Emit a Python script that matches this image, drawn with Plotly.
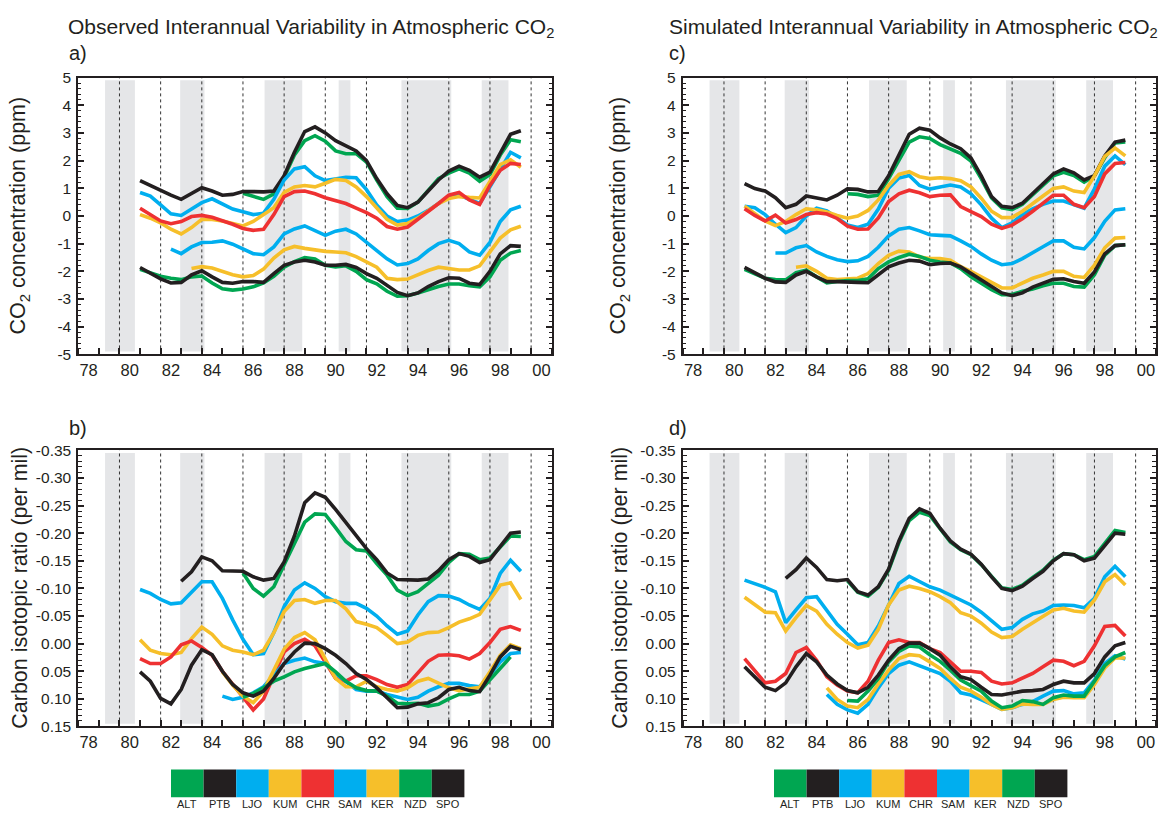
import plotly.graph_objects as go

# ---------------- data ----------------
YEARS = [1981.0, 1981.5, 1982.0, 1982.5, 1983.0, 1983.5, 1984.0, 1984.5, 1985.0, 1985.5,
         1986.0, 1986.5, 1987.0, 1987.5, 1988.0, 1988.5, 1989.0, 1989.5, 1990.0, 1990.5,
         1991.0, 1991.5, 1992.0, 1992.5, 1993.0, 1993.5, 1994.0, 1994.5, 1995.0, 1995.5,
         1996.0, 1996.5, 1997.0, 1997.5, 1998.0, 1998.5, 1999.0, 1999.5]

STATIONS = ["ALT", "PTB", "LJO", "KUM", "CHR", "SAM", "KER", "NZD", "SPO"]
COLORS = ["#00A651", "#231F20", "#00AEEF", "#F6BF2A", "#EE3132",
          "#00AEEF", "#F6BF2A", "#00A651", "#231F20"]

# El Nino shaded periods
ENSO_START = [1979.3, 1982.95, 1987.05, 1990.65, 1993.7, 1997.6]
ENSO_END = [1980.75, 1984.13, 1988.88, 1991.22, 1996.12, 1998.9]
DASH_YEARS = [1980, 1982, 1984, 1986, 1988, 1990, 1992, 1994, 1996, 1998, 2000]

X_LABEL_POS = [1978.5, 1980.5, 1982.5, 1984.5, 1986.5, 1988.5, 1990.5, 1992.5, 1994.5,
               1996.5, 1998.5, 2000.5]
X_LABELS = ["78", "80", "82", "84", "86", "88", "90", "92", "94", "96", "98", "00"]
CO2_TICKS = [-5, -4, -3, -2, -1, 0, 1, 2, 3, 4, 5]
ISO_TICKS = [-0.35, -0.30, -0.25, -0.20, -0.15, -0.10, -0.05, 0.00, 0.05, 0.10, 0.15]
ISO_LABELS = ["-0.35", "-0.30", "-0.25", "-0.20", "-0.15", "-0.10", "-0.05", "0.00",
              "0.05", "0.10", "0.15"]

# start year of each station record, per panel
START_A = [1986.0, 1981.0, 1981.0, 1981.0, 1981.0, 1982.5, 1983.5, 1981.0, 1981.0]
START_B = [1986.0, 1983.0, 1981.0, 1981.0, 1981.0, 1985.0, 1985.0, 1986.0, 1981.0]
START_C = [1986.0, 1981.0, 1981.0, 1981.0, 1981.0, 1982.5, 1983.5, 1981.0, 1981.0]
START_D = [1986.0, 1983.0, 1981.0, 1981.0, 1981.0, 1985.0, 1985.0, 1986.0, 1981.0]

# ---- panel a: observed CO2 (ppm) ----
A_ALT = [0.82, 0.72, 0.6, 0.8, 1.4, 2.2, 2.72, 2.9, 2.7, 2.35, 2.25, 2.25, 1.95, 1.3, 0.7,
         0.28, 0.27, 0.5, 0.95, 1.35, 1.55, 1.7, 1.55, 1.25, 1.5, 2.2, 2.75, 2.68]
A_PTB = [1.28, 1.1, 0.95, 0.75, 0.6, 0.8, 1.02, 0.9, 0.75, 0.78, 0.88, 0.88, 0.87, 0.9, 1.45,
         2.3, 3.05, 3.22, 3.0, 2.72, 2.55, 2.35, 2.0, 1.35, 0.8, 0.38, 0.3, 0.5, 0.9, 1.3,
         1.62, 1.8, 1.65, 1.4, 1.58, 2.3, 2.95, 3.08]
A_LJO = [0.85, 0.72, 0.4, 0.08, 0.02, 0.25, 0.48, 0.62, 0.45, 0.25, 0.15, 0.05, 0.1, 0.6,
         1.3, 1.7, 1.78, 1.45, 1.28, 1.35, 1.4, 1.38, 0.95, 0.4, 0.0, -0.2, -0.15, 0.0, 0.2,
         0.45, 0.68, 0.75, 0.6, 0.45, 1.05, 1.65, 2.3, 2.1]
A_KUM = [0.05, -0.08, -0.25, -0.48, -0.65, -0.42, -0.12, -0.13, -0.18, -0.28, -0.36, -0.2,
         0.05, 0.3, 0.85, 1.05, 1.1, 1.05, 1.18, 1.32, 1.28, 1.05, 0.7, 0.28, -0.12, -0.33,
         -0.27, -0.08, 0.18, 0.45, 0.63, 0.7, 0.67, 0.65, 1.25, 1.85, 2.03, 1.76]
A_CHR = [0.28, 0.05, -0.18, -0.28, -0.2, -0.02, 0.02, -0.05, -0.17, -0.3, -0.45, -0.52,
         -0.48, 0.05, 0.7, 0.88, 0.9, 0.8, 0.66, 0.55, 0.45, 0.28, 0.12, -0.08, -0.38, -0.48,
         -0.4, -0.12, 0.15, 0.45, 0.75, 0.85, 0.58, 0.42, 1.1, 1.65, 1.9, 1.86]
A_SAM = [-1.2, -1.36, -1.12, -0.96, -0.95, -0.9, -1.02, -1.2, -1.36, -1.4, -1.12, -0.65,
         -0.47, -0.36, -0.54, -0.7, -0.55, -0.48, -0.65, -0.95, -1.25, -1.55, -1.77, -1.72,
         -1.55, -1.25, -1.0, -0.88, -1.0, -1.3, -1.42, -0.95, -0.2, 0.22, 0.35]
A_KER = [-1.9, -1.83, -1.88, -2.0, -2.12, -2.2, -2.15, -1.92, -1.52, -1.22, -1.1, -1.17,
         -1.23, -1.28, -1.3, -1.33, -1.47, -1.65, -1.85, -2.25, -2.3, -2.28, -2.12, -1.97,
         -1.85, -1.9, -1.95, -1.95, -1.8, -1.3, -0.8, -0.5, -0.37]
A_NZD = [-1.93, -2.07, -2.18, -2.25, -2.3, -2.2, -2.17, -2.42, -2.63, -2.68, -2.64, -2.56,
         -2.42, -2.18, -1.85, -1.65, -1.5, -1.55, -1.78, -1.84, -1.8, -2.0, -2.3, -2.45,
         -2.72, -2.9, -2.88, -2.78, -2.65, -2.55, -2.46, -2.46, -2.52, -2.56, -2.2, -1.6,
         -1.34, -1.25]
A_SPO = [-1.86, -2.08, -2.27, -2.42, -2.4, -2.13, -1.98, -2.2, -2.4, -2.43, -2.37, -2.37,
         -2.4, -2.08, -1.78, -1.66, -1.6, -1.66, -1.78, -1.78, -1.75, -1.86, -2.08, -2.25,
         -2.52, -2.76, -2.88, -2.78, -2.55, -2.37, -2.23, -2.25, -2.43, -2.48, -2.0, -1.37,
         -1.07, -1.1]

# ---- panel b: observed carbon isotopic ratio (per mil) ----
B_ALT = [-0.128, -0.1, -0.086, -0.103, -0.143, -0.18, -0.22, -0.235, -0.234, -0.21, -0.185,
         -0.17, -0.168, -0.145, -0.124, -0.097, -0.087, -0.094, -0.108, -0.124, -0.147,
         -0.163, -0.162, -0.152, -0.155, -0.175, -0.195, -0.194]
B_PTB = [-0.113, -0.13, -0.157, -0.15, -0.132, -0.132, -0.131, -0.121, -0.115, -0.118,
         -0.148, -0.195, -0.255, -0.273, -0.265, -0.243, -0.22, -0.197, -0.172, -0.152,
         -0.128, -0.116, -0.116, -0.115, -0.117, -0.132, -0.152, -0.163, -0.158, -0.147,
         -0.152, -0.175, -0.2, -0.202]
B_LJO = [-0.098, -0.091, -0.08, -0.072, -0.074, -0.094, -0.112, -0.112, -0.082, -0.043,
         -0.008, 0.02, 0.018, -0.02, -0.067, -0.097, -0.11, -0.1, -0.085, -0.076, -0.073,
         -0.073, -0.064, -0.05, -0.032, -0.017, -0.023, -0.052, -0.076, -0.087, -0.086,
         -0.08, -0.07, -0.062, -0.082, -0.127, -0.151, -0.131]
B_KUM = [-0.007, 0.012, 0.018, 0.02, 0.016, -0.009, -0.03, -0.017, 0.004, 0.012, 0.015,
         0.02, 0.012, -0.02, -0.058, -0.078, -0.08, -0.073, -0.078, -0.078, -0.063, -0.04,
         -0.035, -0.029, -0.015, 0.0, -0.003, -0.015, -0.02, -0.021, -0.029, -0.039, -0.045,
         -0.053, -0.079, -0.106, -0.11, -0.08]
B_CHR = [0.027, 0.036, 0.036, 0.024, 0.002, -0.005, 0.007, 0.021, 0.05, 0.074, 0.097, 0.12,
         0.1, 0.057, 0.015, 0.0, -0.008, 0.004, 0.033, 0.063, 0.068, 0.058, 0.058, 0.065,
         0.074, 0.079, 0.074, 0.054, 0.032, 0.021, 0.02, 0.022, 0.028, 0.018, -0.002,
         -0.026, -0.031, -0.024]
B_SAM = [0.095, 0.101, 0.097, 0.089, 0.078, 0.057, 0.036, 0.03, 0.026, 0.033, 0.036, 0.054,
         0.068, 0.083, 0.086, 0.086, 0.092, 0.097, 0.101, 0.097, 0.086, 0.078, 0.072, 0.072,
         0.076, 0.078, 0.057, 0.033, 0.018, 0.016]
B_KER = [0.051, 0.075, 0.095, 0.107, 0.086, 0.047, 0.01, -0.011, -0.02, -0.007, 0.027,
         0.063, 0.078, 0.078, 0.068, 0.078, 0.083, 0.086, 0.08, 0.068, 0.063, 0.072, 0.08,
         0.085, 0.082, 0.079, 0.051, 0.021, 0.002, 0.009]
B_NZD = [0.097, 0.09, 0.08, 0.068, 0.06, 0.051, 0.045, 0.04, 0.036, 0.051, 0.068, 0.08,
         0.085, 0.086, 0.095, 0.108, 0.109, 0.108, 0.113, 0.11, 0.1, 0.092, 0.092, 0.086,
         0.066, 0.045, 0.024]
B_SPO = [0.051, 0.068, 0.099, 0.109, 0.083, 0.039, 0.011, 0.02, 0.05, 0.074, 0.089, 0.095,
         0.086, 0.063, 0.036, 0.015, -0.001, 0.0, 0.009, 0.021, 0.036, 0.054, 0.065, 0.08,
         0.098, 0.116, 0.115, 0.109, 0.107, 0.098, 0.083, 0.079, 0.085, 0.087, 0.057, 0.024,
         0.005, 0.011]

# ---- panel c: simulated CO2 (ppm) ----
C_ALT = [0.8, 0.78, 0.7, 0.75, 1.35, 2.03, 2.67, 2.86, 2.8, 2.58, 2.43, 2.26, 1.98, 1.35,
         0.65, 0.29, 0.23, 0.42, 0.77, 1.13, 1.45, 1.58, 1.46, 1.22, 1.45, 2.1, 2.64, 2.67]
C_PTB = [1.17, 0.99, 0.9, 0.66, 0.3, 0.42, 0.72, 0.66, 0.58, 0.75, 0.98, 0.96, 0.87, 0.88,
         1.45, 2.2, 2.95, 3.17, 3.1, 2.82, 2.6, 2.43, 2.1, 1.45, 0.7, 0.35, 0.3, 0.46, 0.81,
         1.17, 1.52, 1.7, 1.56, 1.3, 1.46, 2.17, 2.67, 2.74]
C_LJO = [0.35, 0.3, 0.05, -0.3, -0.6, -0.42, 0.0, 0.28, 0.18, -0.08, -0.33, -0.42, -0.3,
         0.25, 1.0, 1.37, 1.46, 1.1, 0.97, 1.05, 1.12, 1.05, 0.8, 0.4, -0.08, -0.42, -0.25,
         0.05, 0.26, 0.42, 0.54, 0.54, 0.4, 0.28, 0.98, 1.8, 2.17, 1.85]
C_KUM = [0.35, 0.1, -0.18, -0.35, -0.2, 0.05, 0.26, 0.22, 0.14, 0.02, -0.08, 0.0, 0.2,
         0.58, 1.1, 1.5, 1.6, 1.42, 1.35, 1.38, 1.35, 1.27, 1.05, 0.64, 0.17, -0.06, -0.05,
         0.17, 0.46, 0.72, 0.99, 1.05, 0.9, 0.85, 1.45, 2.15, 2.45, 2.17]
C_CHR = [0.26, 0.02, -0.18, 0.03, -0.25, -0.13, 0.05, 0.12, 0.07, -0.09, -0.37, -0.48,
         -0.47, -0.07, 0.52, 0.8, 0.93, 0.84, 0.7, 0.75, 0.76, 0.34, 0.16, -0.02, -0.3,
         -0.45, -0.33, -0.1, 0.17, 0.46, 0.75, 0.75, 0.42, 0.3, 0.7, 1.52, 1.9, 1.93]
C_SAM = [-1.34, -1.34, -1.15, -1.07, -1.3, -1.46, -1.58, -1.65, -1.62, -1.46, -1.13, -0.72,
         -0.48, -0.42, -0.54, -0.68, -0.7, -0.72, -0.9, -1.1, -1.37, -1.6, -1.76, -1.72,
         -1.54, -1.31, -1.11, -0.9, -0.9, -1.13, -1.19, -0.78, -0.19, 0.22, 0.26]
C_KER = [-1.85, -1.8, -2.0, -2.25, -2.3, -2.27, -2.25, -2.08, -1.72, -1.42, -1.27, -1.3,
         -1.48, -1.54, -1.54, -1.6, -1.83, -2.0, -2.2, -2.43, -2.6, -2.6, -2.43, -2.25,
         -2.13, -2.0, -2.0, -2.18, -2.22, -1.78, -1.15, -0.8, -0.78]
C_NZD = [-1.93, -2.08, -2.25, -2.3, -2.31, -2.05, -1.96, -2.2, -2.42, -2.37, -2.33, -2.33,
         -2.27, -1.9, -1.66, -1.5, -1.38, -1.46, -1.6, -1.66, -1.7, -1.9, -2.2, -2.43, -2.66,
         -2.84, -2.84, -2.72, -2.64, -2.52, -2.43, -2.43, -2.55, -2.57, -2.12, -1.42, -1.07,
         -1.04]
C_SPO = [-1.86, -2.07, -2.25, -2.38, -2.4, -2.13, -2.0, -2.2, -2.37, -2.37, -2.37, -2.4,
         -2.41, -2.13, -1.84, -1.7, -1.6, -1.63, -1.76, -1.72, -1.7, -1.84, -2.08, -2.29,
         -2.55, -2.78, -2.88, -2.78, -2.57, -2.43, -2.29, -2.27, -2.37, -2.43, -2.02, -1.37,
         -1.07, -1.04]

# ---- panel d: simulated carbon isotopic ratio (per mil) ----
D_ALT = [-0.114, -0.093, -0.086, -0.102, -0.133, -0.183, -0.223, -0.238, -0.232, -0.207,
         -0.184, -0.17, -0.161, -0.143, -0.121, -0.101, -0.098, -0.106, -0.12, -0.133,
         -0.151, -0.163, -0.161, -0.152, -0.158, -0.182, -0.205, -0.201]
D_PTB = [-0.118, -0.134, -0.155, -0.138, -0.116, -0.114, -0.116, -0.094, -0.088, -0.103,
         -0.135, -0.186, -0.227, -0.244, -0.236, -0.209, -0.186, -0.171, -0.162, -0.144,
         -0.121, -0.1, -0.096, -0.104, -0.118, -0.131, -0.15, -0.163, -0.161, -0.15, -0.155,
         -0.177, -0.2, -0.198]
D_LJO = [-0.115, -0.109, -0.102, -0.094, -0.038, -0.061, -0.083, -0.085, -0.061, -0.035,
         -0.017, 0.002, -0.002, -0.032, -0.07, -0.109, -0.122, -0.112, -0.103, -0.097,
         -0.088, -0.079, -0.07, -0.057, -0.041, -0.026, -0.029, -0.044, -0.054, -0.059,
         -0.069, -0.07, -0.069, -0.065, -0.082, -0.121, -0.14, -0.121]
D_KUM = [-0.084, -0.07, -0.057, -0.056, -0.023, -0.047, -0.069, -0.059, -0.035, -0.017,
         -0.002, 0.008, 0.003, -0.026, -0.07, -0.097, -0.104, -0.1, -0.094, -0.085, -0.074,
         -0.056, -0.05, -0.037, -0.021, -0.011, -0.013, -0.026, -0.038, -0.05, -0.061,
         -0.064, -0.059, -0.057, -0.079, -0.112, -0.125, -0.106]
D_CHR = [0.027, 0.048, 0.071, 0.068, 0.054, 0.016, 0.007, 0.03, 0.06, 0.075, 0.086, 0.089,
         0.068, 0.03, -0.002, -0.007, -0.002, -0.002, 0.009, 0.016, 0.033, 0.05, 0.05, 0.052,
         0.068, 0.073, 0.071, 0.063, 0.054, 0.042, 0.03, 0.032, 0.04, 0.032, 0.004, -0.031,
         -0.033, -0.014]
D_SAM = [0.092, 0.11, 0.12, 0.126, 0.11, 0.08, 0.054, 0.039, 0.033, 0.04, 0.048, 0.054,
         0.068, 0.089, 0.093, 0.101, 0.11, 0.119, 0.116, 0.11, 0.105, 0.095, 0.086, 0.085,
         0.091, 0.089, 0.066, 0.036, 0.022, 0.028]
D_KER = [0.08, 0.101, 0.113, 0.116, 0.101, 0.073, 0.048, 0.027, 0.02, 0.022, 0.033, 0.045,
         0.063, 0.079, 0.086, 0.097, 0.11, 0.119, 0.116, 0.109, 0.11, 0.11, 0.101, 0.097,
         0.098, 0.098, 0.074, 0.044, 0.026, 0.026]
D_NZD = [0.103, 0.104, 0.086, 0.063, 0.033, 0.014, 0.004, 0.006, 0.02, 0.032, 0.048, 0.066,
         0.076, 0.086, 0.104, 0.116, 0.113, 0.103, 0.105, 0.11, 0.098, 0.093, 0.095, 0.095,
         0.068, 0.04, 0.024, 0.016]
D_SPO = [0.042, 0.06, 0.079, 0.085, 0.071, 0.042, 0.018, 0.033, 0.057, 0.073, 0.085, 0.089,
         0.079, 0.057, 0.03, 0.009, -0.001, -0.001, 0.009, 0.021, 0.042, 0.06, 0.065, 0.079,
         0.092, 0.093, 0.089, 0.086, 0.085, 0.083, 0.074, 0.068, 0.071, 0.071, 0.054, 0.024,
         0.004, -0.002]

PANEL_A = [A_ALT, A_PTB, A_LJO, A_KUM, A_CHR, A_SAM, A_KER, A_NZD, A_SPO]
PANEL_B = [B_ALT, B_PTB, B_LJO, B_KUM, B_CHR, B_SAM, B_KER, B_NZD, B_SPO]
PANEL_C = [C_ALT, C_PTB, C_LJO, C_KUM, C_CHR, C_SAM, C_KER, C_NZD, C_SPO]
PANEL_D = [D_ALT, D_PTB, D_LJO, D_KUM, D_CHR, D_SAM, D_KER, D_NZD, D_SPO]

# ---------------- figure ----------------
W, H = 1168, 819
FONT = "Liberation Sans, Arial, Helvetica, sans-serif"
INK = "#231F20"


def px_x(p):
    return p / W


def px_y(p):
    return 1 - p / H


# panel pixel boxes (left, right, top, bottom)
BOX = {
    "a": (78.3, 551.7, 70.0, 352.7),
    "b": (78.3, 551.7, 450.7, 732.7),
    "c": (682.8, 1156.2, 70.0, 352.7),
    "d": (682.8, 1156.2, 450.7, 732.7),
}
AXES = {"a": ("x", "y"), "b": ("x2", "y2"), "c": ("x3", "y3"), "d": ("x4", "y4")}

fig = go.Figure()

panels = [("a", PANEL_A, START_A), ("b", PANEL_B, START_B),
          ("c", PANEL_C, START_C), ("d", PANEL_D, START_D)]
for key, series, starts in panels:
    xa, ya = AXES[key]
    for name, color, vals, st in zip(STATIONS, COLORS, series, starts):
        i0 = YEARS.index(st)
        xs = YEARS[i0:i0 + len(vals)]
        fig.add_trace(go.Scatter(
            x=xs, y=vals, mode="lines", name=name, showlegend=False,
            line=dict(color=color, width=3.6), xaxis=xa, yaxis=ya,
            hoverinfo="skip"))

shapes = []
for key in "abcd":
    xa, ya = AXES[key]
    for s, e in zip(ENSO_START, ENSO_END):
        shapes.append(dict(type="rect", xref=xa, yref=ya + " domain", x0=s, x1=e,
                           y0=0.01, y1=0.99, fillcolor="#E5E6E8", line=dict(width=0),
                           layer="below"))
    for yr in DASH_YEARS:
        shapes.append(dict(type="line", xref=xa, yref=ya + " domain", x0=yr, x1=yr,
                           y0=0, y1=1, line=dict(color="#333333", width=1, dash="3px,3px"),
                           layer="below"))

layout = dict(
    width=W, height=H, margin=dict(l=0, r=0, t=0, b=0),
    paper_bgcolor="white", plot_bgcolor="white",
    font=dict(family=FONT, color=INK, size=15),
    shapes=shapes,
)


def xaxis_cfg(key):
    l, r, t, b = BOX[key]
    return dict(
        domain=[px_x(l), px_x(r)], range=[1978, 2001], showgrid=False, zeroline=False,
        showline=True, linecolor=INK, linewidth=2, mirror=True,
        tickmode="array", tickvals=X_LABEL_POS, ticktext=X_LABELS, ticks="",
        tickfont=dict(size=16.5, family=FONT, color=INK),
        minor=dict(ticks="inside", tickmode="linear", tick0=1978, dtick=1, ticklen=6,
                   tickwidth=1.5, tickcolor=INK, showgrid=False),
        anchor=AXES[key][1],
    )


def yaxis_cfg(key, iso):
    l, r, t, b = BOX[key]
    d = dict(
        domain=[px_y(b), px_y(t)], showgrid=False, zeroline=False,
        showline=True, linecolor=INK, linewidth=2, mirror="allticks",
        ticks="inside", ticklen=6, tickwidth=1.5, tickcolor=INK,
        tickfont=dict(size=15.5, family=FONT, color=INK),
        anchor=AXES[key][0], ticklabelstandoff=2,
    )
    if iso:
        d.update(range=[0.15, -0.35], tickmode="array", tickvals=ISO_TICKS,
                 ticktext=ISO_LABELS,
                 minor=dict(ticks="inside", tickmode="linear", tick0=0, dtick=0.01,
                            ticklen=4, tickwidth=1, tickcolor=INK, showgrid=False))
    else:
        d.update(range=[-5, 5], tickmode="array", tickvals=CO2_TICKS,
                 ticktext=[str(v) for v in CO2_TICKS],
                 minor=dict(ticks="inside", tickmode="linear", tick0=0, dtick=0.2,
                            ticklen=3, tickwidth=1, tickcolor=INK, showgrid=False))
    return d


for i, key in enumerate("abcd"):
    sfx = "" if i == 0 else str(i + 1)
    layout["xaxis" + sfx] = xaxis_cfg(key)
    layout["yaxis" + sfx] = yaxis_cfg(key, key in "bd")

fig.update_layout(**layout)

# text annotations
ann = []
TITLE_L = "Observed Interannual Variability in Atmospheric CO<sub>2</sub>"
TITLE_R = "Simulated Interannual Variability in Atmospheric CO<sub>2</sub>"
for txt, xpx in [(TITLE_L, 66), (TITLE_R, 667)]:
    ann.append(dict(text=txt, x=px_x(xpx), y=px_y(19), xref="paper", yref="paper",
                    xanchor="left", yanchor="middle", showarrow=False,
                    font=dict(size=21, family=FONT, color=INK)))
for txt, xpx, ypx in [("a)", 67, 45), ("b)", 67, 428), ("c)", 667, 45), ("d)", 667, 428)]:
    ann.append(dict(text=txt, x=px_x(xpx), y=px_y(ypx), xref="paper", yref="paper",
                    xanchor="left", yanchor="middle", showarrow=False,
                    font=dict(size=20, family=FONT, color=INK)))
YT_CO2 = "CO<sub>2</sub> concentration (ppm)"
YT_ISO = "Carbon isotopic ratio (per mil)"
for txt, xpx, ypx in [(YT_CO2, 20, 211), (YT_ISO, 20, 591), (YT_CO2, 620, 211),
                      (YT_ISO, 620, 591)]:
    ann.append(dict(text=txt, x=px_x(xpx), y=px_y(ypx), xref="paper", yref="paper",
                    xanchor="center", yanchor="middle", showarrow=False, textangle=-90,
                    font=dict(size=21.5, family=FONT, color=INK)))

# colour key boxes below each column
KEY_W = 32.6
for x0 in (171.0, 774.0):
    for i, (name, color) in enumerate(zip(STATIONS, COLORS)):
        xa0 = x0 + i * KEY_W
        fig.add_shape(type="rect", xref="paper", yref="paper",
                      x0=px_x(xa0), x1=px_x(xa0 + KEY_W), y0=px_y(805), y1=px_y(776.7),
                      fillcolor=color, line=dict(width=0))
        ann.append(dict(text=name, x=px_x(xa0 + KEY_W / 2), y=px_y(812), xref="paper",
                        yref="paper", xanchor="center", yanchor="middle", showarrow=False,
                        font=dict(size=11, family=FONT, color=INK)))

fig.update_layout(annotations=ann)
fig.write_html("out.html", config={"displayModeBar": False})
